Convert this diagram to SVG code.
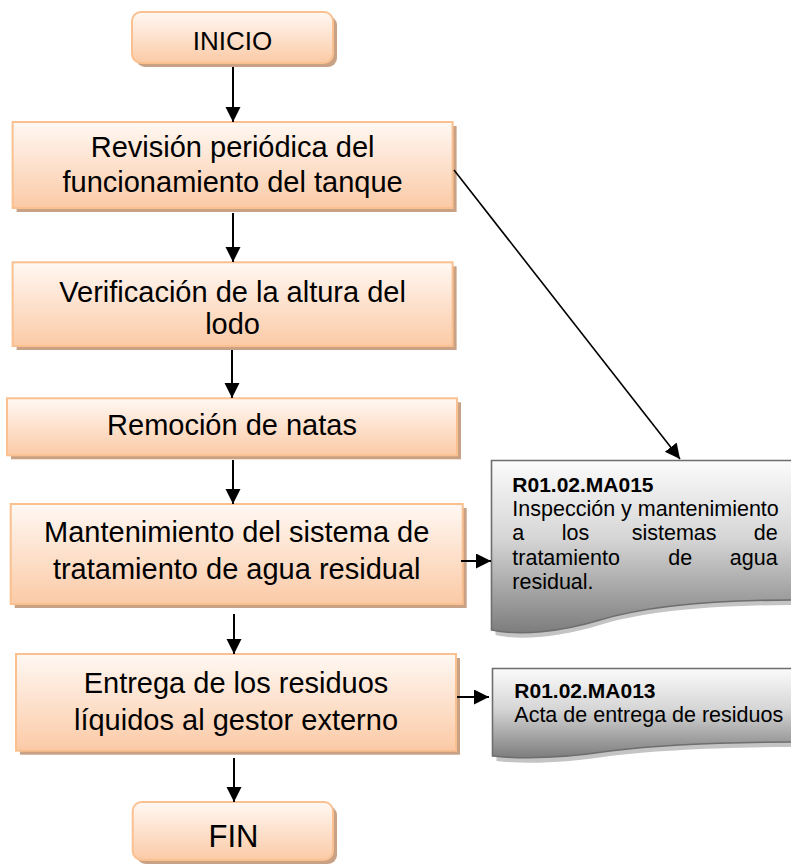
<svg xmlns="http://www.w3.org/2000/svg" width="791" height="865" viewBox="0 0 791 865">
<defs>
<linearGradient id="peach" x1="0" y1="0" x2="0" y2="1">
<stop offset="0" stop-color="#fff8f3"/>
<stop offset="1" stop-color="#fbcaa6"/>
</linearGradient>
<linearGradient id="grey" x1="0" y1="0" x2="0" y2="1">
<stop offset="0" stop-color="#fbfbfb"/>
<stop offset="0.45" stop-color="#d6d6d6"/>
<stop offset="1" stop-color="#7d7d7d"/>
</linearGradient>
<marker id="ah" markerUnits="userSpaceOnUse" markerWidth="16" markerHeight="16" refX="15" refY="7.5" orient="auto" viewBox="0 0 16 16">
<path d="M0,0 L15,7.5 L0,15 Z" fill="#000"/>
</marker>
</defs>
<style>
.box{fill:url(#peach);stroke:#fac090;stroke-width:2}
.shd{fill:#c9a184}
.doc{fill:url(#grey);stroke:#6e6e6e;stroke-width:1.6}
.dshd{fill:#c4c4c4}
.t{font-family:"Liberation Sans",Arial,sans-serif;font-size:29px;fill:#000;text-anchor:middle}
.dt{font-family:"Liberation Sans",Arial,sans-serif;font-size:21.5px;fill:#000}
.db{font-family:"Liberation Sans",Arial,sans-serif;font-size:21px;font-weight:bold;fill:#000}
.c{stroke:#000;stroke-width:2;fill:none;marker-end:url(#ah)}
</style>

<g id="inicio">
<rect class="shd" x="136" y="16" width="201" height="51" rx="9"/>
<rect class="box" x="132" y="12" width="201" height="51" rx="9"/>
<text class="t" x="232.5" y="50" style="font-size:26px">INICIO</text>
</g>

<g id="revision">
<rect class="shd" x="16.6" y="126" width="440" height="86"/>
<rect class="box" x="12.6" y="122" width="440" height="86"/>
<text class="t" x="232.6" y="157">Revisión periódica del</text>
<text class="t" x="232.6" y="192">funcionamiento del tanque</text>
</g>

<g id="verificacion">
<rect class="shd" x="16.6" y="266.3" width="440" height="83.7"/>
<rect class="box" x="12.6" y="262.3" width="440" height="83.7"/>
<text class="t" x="232.6" y="301.5">Verificación de la altura del</text>
<text class="t" x="232.6" y="333.5">lodo</text>
</g>

<g id="remocion">
<rect class="shd" x="11" y="402.3" width="450" height="57"/>
<rect class="box" x="7" y="398.3" width="450" height="57"/>
<text class="t" x="232" y="434.5">Remoción de natas</text>
</g>

<g id="mantenimiento">
<rect class="shd" x="14.7" y="508" width="452" height="100"/>
<rect class="box" x="10.7" y="504" width="452" height="100"/>
<text class="t" x="236.7" y="541.7">Mantenimiento del sistema de</text>
<text class="t" x="236.7" y="579.3">tratamiento de agua residual</text>
</g>

<g id="entrega">
<rect class="shd" x="20" y="658" width="440" height="96.7"/>
<rect class="box" x="16" y="654" width="440" height="96.7"/>
<text class="t" x="236" y="692.7">Entrega de los residuos</text>
<text class="t" x="236" y="730">líquidos al gestor externo</text>
</g>

<g id="fin">
<rect class="shd" x="136.7" y="806" width="200.3" height="58" rx="9"/>
<rect class="box" x="132.7" y="802" width="200.3" height="58" rx="9"/>
<text class="t" x="233.5" y="846.5" style="font-size:31px">FIN</text>
</g>

<g id="doc-ma015">
<path class="dshd" d="M495.5,465.5 H800 V605 C700,605 640,613 600,625 C560,637 520,641 495.5,635 Z"/>
<path class="doc" d="M491.5,460.5 H795 V600 C700,600 640,608 600,620 C560,632 520,636 491.5,630 Z"/>
<text class="db" x="512.3" y="491.5">R01.02.MA015</text>
<text class="dt" x="512.3" y="515.5">Inspección y mantenimiento</text>
<text class="dt" x="512.3" y="540">a</text>
<text class="dt" x="561.7" y="540">los</text>
<text class="dt" x="631.7" y="540">sistemas</text>
<text class="dt" x="777.7" y="540" text-anchor="end">de</text>
<text class="dt" x="512.3" y="564.5">tratamiento</text>
<text class="dt" x="668.3" y="564.5">de</text>
<text class="dt" x="777.7" y="564.5" text-anchor="end">agua</text>
<text class="dt" x="512.3" y="589">residual.</text>
</g>

<g id="doc-ma013">
<path class="dshd" d="M496.5,673.5 H800 V747 C720,747 650,751 610,756 C570,762 530,765 496.5,761 Z"/>
<path class="doc" d="M492.5,668.5 H795 V742 C720,742 650,746 610,751 C570,757 530,760 492.5,756 Z"/>
<text class="db" x="514.3" y="698.3">R01.02.MA013</text>
<text class="dt" x="514.3" y="721.7">Acta de entrega de residuos</text>
</g>

<g id="connectors">
<line class="c" x1="233" y1="67" x2="233" y2="122"/>
<line class="c" x1="233" y1="213" x2="233" y2="262"/>
<line class="c" x1="232" y1="350" x2="232" y2="398"/>
<line class="c" x1="233" y1="460" x2="233" y2="504"/>
<line class="c" x1="234" y1="614" x2="234" y2="654"/>
<line class="c" x1="234" y1="758" x2="234" y2="802"/>
<line class="c" style="stroke-width:1.6" x1="454" y1="170" x2="680" y2="459"/>
<line class="c" x1="461" y1="561" x2="491" y2="561"/>
<line class="c" x1="457" y1="697" x2="489" y2="697"/>
</g>
</svg>
